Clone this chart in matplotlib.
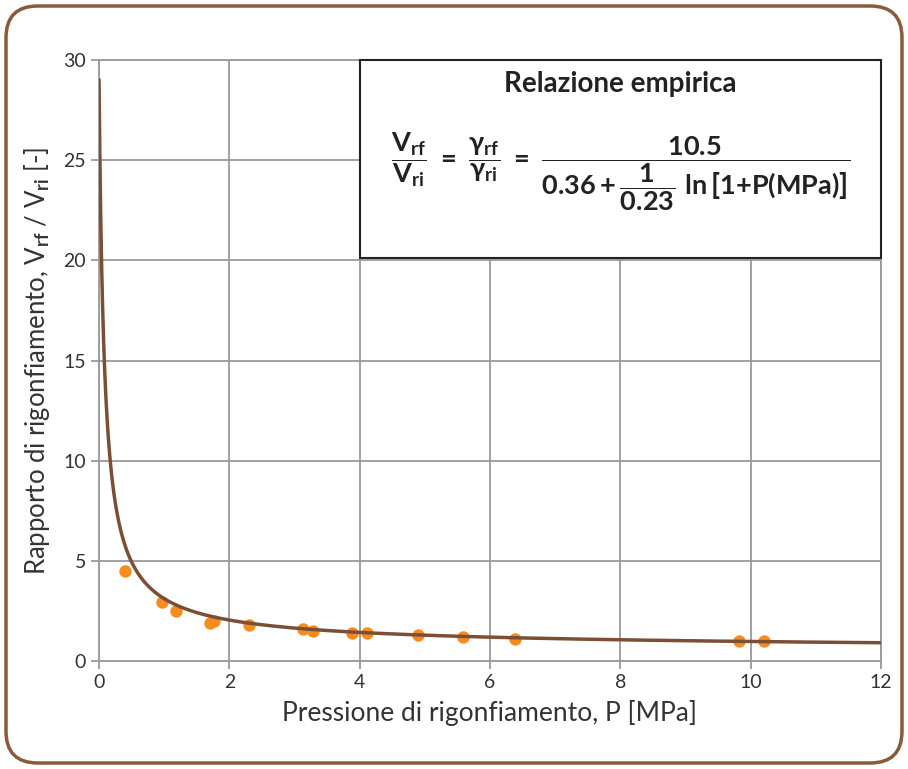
import numpy as np
import matplotlib.pyplot as plt
from matplotlib.patches import FancyBboxPatch, Rectangle

pressione = [0.40, 0.97, 1.18, 1.70, 1.76, 2.30, 3.13, 3.28, 3.88, 4.12,
             4.90, 5.58, 6.38, 9.82, 10.20]
rapporto = [4.51, 2.96, 2.50, 1.88, 2.01, 1.78, 1.58, 1.51, 1.41, 1.41,
            1.30, 1.18, 1.08, 1.00, 1.00]

# Coefficienti della relazione empirica
a, b, c = 10.5, 0.36, 0.23

x_ticks = [0, 2, 4, 6, 8, 10, 12]
y_ticks = [0, 5, 10, 15, 20, 25, 30]

plt.rcParams['font.family'] = ['Lato', 'DejaVu Sans']
plt.rcParams['mathtext.fontset'] = 'custom'
plt.rcParams['mathtext.rm'] = 'Lato:bold'
plt.rcParams['mathtext.bf'] = 'Lato:bold'
plt.rcParams['mathtext.it'] = 'Lato:bold'
plt.rcParams['mathtext.default'] = 'bf'

fig = plt.figure(figsize=(9.08, 7.69), dpi=100)
ax = fig.add_axes([99 / 908, 1 - 661 / 769, 782 / 908, 601 / 769])

# Curva della relazione empirica
p = np.geomspace(0.0005, 12, 800)
v = a / (b + np.log(1 + p) / c)
ax.plot(p, v, color='#7a4f35', lw=2.5, zorder=4)
ax.scatter(pressione, rapporto, s=80, color='#f68b1f', zorder=3, linewidths=0)

ax.set_xlim(0, 12)
ax.set_ylim(0, 30)
ax.set_xticks(x_ticks)
ax.set_yticks(y_ticks)
ax.grid(True, color='#9a9a9a', lw=1.3, zorder=0)
ax.set_axisbelow(True)
for s in ax.spines.values():
    s.set_color('#9a9a9a')
    s.set_linewidth(1.3)
ax.tick_params(colors='#9a9a9a', labelcolor='#333333', labelsize=14,
               length=6, width=1.3)

ax.set_xlabel('Pressione di rigonfiamento, P [MPa]', fontsize=19,
              color='#333333', labelpad=6)
ax.set_ylabel(r'Rapporto di rigonfiamento, V$_{\mathrm{rf}}$ / V$_{\mathrm{ri}}$ [-]',
              fontsize=18.5, color='#333333', labelpad=8)

# Riquadro con la formula
ax.add_patch(Rectangle((4, 20.1), 8, 9.9, facecolor='white', edgecolor='#222222',
                       lw=1.5, zorder=5, clip_on=False))
ax.text(8.0, 28.8, 'Relazione empirica', ha='center', va='center',
        fontsize=20, fontweight='bold', color='#222222', zorder=6)
formula = (r'$\dfrac{V_{rf}}{V_{ri}}\ =\ \dfrac{\gamma_{rf}}{\gamma_{ri}}\ =\ '
           r'\dfrac{10.5}{0.36 + \dfrac{1}{0.23}\ \ln\left[1{+}P(MPa)\right]}$')
ax.text(8.0, 24.4, formula, ha='center', va='center', fontsize=19.5,
        color='#222222', zorder=6)

# Cornice arrotondata
fig.patches.append(FancyBboxPatch((6 / 908, 6 / 769), 896 / 908, 757 / 769,
                                  boxstyle='round,pad=0,rounding_size=0.035',
                                  transform=fig.transFigure, fill=False,
                                  edgecolor='#8a5a3c', lw=2.5,
                                  mutation_aspect=908 / 769))

fig.savefig('out.png', dpi=100)
